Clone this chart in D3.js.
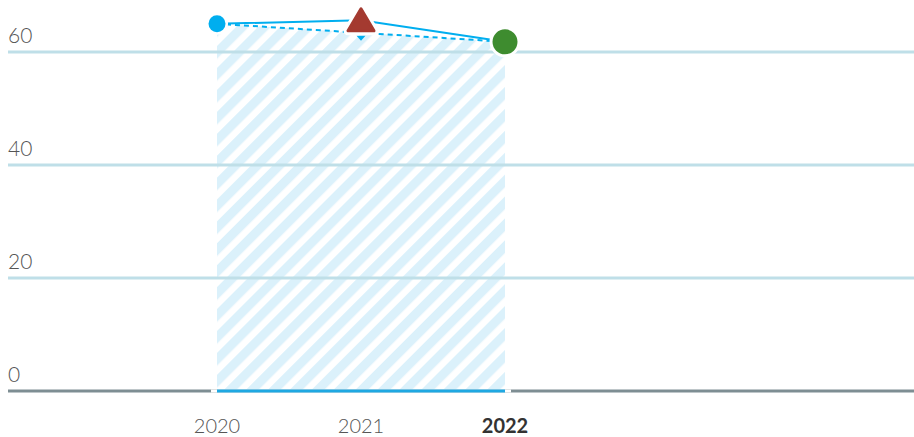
<!DOCTYPE html>
<html>
<head>
<meta charset="utf-8">
<script src="https://cdn.jsdelivr.net/npm/d3@7"></script>
<style>
  html, body { margin: 0; padding: 0; background: #fff; }
  svg { display: block; }
</style>
</head>
<body>
<svg id="chart" width="914" height="437"></svg>
<script>
// ---- data ----
const years = [2020, 2021, 2022];
const values = [65.0, 65.6, 61.8];
const yTicks = [0, 20, 40, 60];
const xTickLabels = ["2020", "2021", "2022"];
const highlightYear = 2022;

// ---- setup ----
const W = 914, H = 437;
const svg = d3.select("#chart");
const x = d3.scaleLinear().domain([2020, 2022]).range([217, 505]);
const y = d3.scaleLinear().domain([0, 60]).range([391, 52]);
const left = 8, right = 914;
const FONT = "'Source Sans Pro', Lato, 'Open Sans', sans-serif";

// hatch pattern
const defs = svg.append("defs");
const pat = defs.append("pattern")
  .attr("id", "hatch")
  .attr("patternUnits", "userSpaceOnUse")
  .attr("width", 15.5).attr("height", 15.5)
  .attr("patternTransform", "rotate(45)");
pat.append("rect").attr("width", 15.5).attr("height", 15.5).attr("fill", "#fff");
pat.append("rect").attr("width", 9).attr("height", 15.5).attr("fill", "#dbf1fb");

// trend area (straight line from first to last value)
const first = { year: years[0], v: values[0] };
const last = { year: years[years.length - 1], v: values[values.length - 1] };
const trend = v => first.v + (last.v - first.v) * (v - first.year) / (last.year - first.year);

svg.append("path")
  .attr("d", d3.area().x(d => x(d)).y0(y(0)).y1(d => y(trend(d)))([first.year, last.year]))
  .attr("fill", "url(#hatch)");

// gridlines
svg.append("g").selectAll("line").data(yTicks.filter(t => t !== 0)).join("line")
  .attr("x1", left).attr("x2", right)
  .attr("y1", d => y(d)).attr("y2", d => y(d))
  .attr("stroke", "#bfdfe8").attr("stroke-width", 3);

// y labels
svg.append("g").selectAll("text").data(yTicks).join("text")
  .attr("x", left).attr("y", d => y(d) - 9)
  .attr("font-family", FONT).attr("font-weight", 300)
  .attr("font-size", 21).attr("fill", "#555")
  .text(d => d);

// baseline
svg.append("line").attr("x1", left).attr("x2", right)
  .attr("y1", y(0)).attr("y2", y(0))
  .attr("stroke", "#7e8e93").attr("stroke-width", 3);
svg.append("line").attr("x1", x(first.year) - 6).attr("x2", x(last.year) + 6)
  .attr("y1", y(0)).attr("y2", y(0))
  .attr("stroke", "#fff").attr("stroke-width", 3);
svg.append("line").attr("x1", x(first.year)).attr("x2", x(last.year))
  .attr("y1", y(0)).attr("y2", y(0))
  .attr("stroke", "#1fa8e2").attr("stroke-width", 3);

// x labels
svg.append("g").selectAll("text").data(years).join("text")
  .attr("x", d => x(d)).attr("y", 433)
  .attr("text-anchor", "middle")
  .attr("font-family", FONT)
  .attr("font-weight", d => d === highlightYear ? 700 : 300)
  .attr("font-size", 20)
  .attr("fill", d => d === highlightYear ? "#333" : "#555")
  .text((d, i) => xTickLabels[i]);

// dashed trend line
svg.append("path")
  .attr("d", d3.line().x(d => x(d)).y(d => y(trend(d)))([first.year, last.year]))
  .attr("fill", "none").attr("stroke", "#00aeef").attr("stroke-width", 2)
  .attr("stroke-dasharray", "5,4");

// solid line
svg.append("path")
  .attr("d", d3.line().x((d, i) => x(years[i])).y(d => y(d))(values))
  .attr("fill", "none").attr("stroke", "#00aeef").attr("stroke-width", 2);

// small down triangle at middle year on the trend
const midYear = years[1];
const mx = x(midYear), my = y(trend(midYear));
svg.append("path")
  .attr("d", `M${mx - 4.5},${my + 3}L${mx + 4.5},${my + 3}L${mx},${my + 8}Z`)
  .attr("fill", "#00aeef");

// markers
// first: blue circle
svg.append("circle").attr("cx", x(years[0])).attr("cy", y(values[0])).attr("r", 8.5)
  .attr("fill", "#00aeef").attr("stroke", "#fff").attr("stroke-width", 5);
svg.append("circle").attr("cx", x(years[0])).attr("cy", y(values[0])).attr("r", 8.5)
  .attr("fill", "#00aeef");

// middle: red triangle
const tx = x(years[1]), ty = y(values[1]);
const tri = `M${tx},${ty - 11.5}L${tx + 13},${ty + 10.5}L${tx - 13},${ty + 10.5}Z`;
svg.append("path").attr("d", tri).attr("fill", "#fff")
  .attr("stroke", "#fff").attr("stroke-width", 9).attr("stroke-linejoin", "round");
svg.append("path").attr("d", tri).attr("fill", "#a43a30")
  .attr("stroke", "#a43a30").attr("stroke-width", 3).attr("stroke-linejoin", "round");

// last: green circle
svg.append("circle").attr("cx", x(years[2])).attr("cy", y(values[2])).attr("r", 14)
  .attr("fill", "#3e8c2f").attr("stroke", "#fff").attr("stroke-width", 3);
</script>
</body>
</html>
